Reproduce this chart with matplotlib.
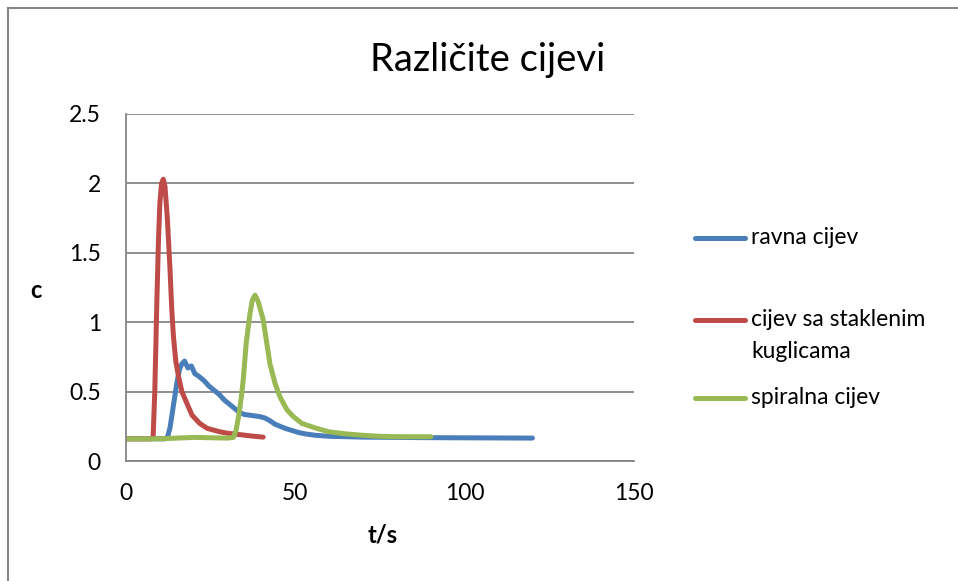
import matplotlib
matplotlib.use("Agg")
import matplotlib.pyplot as plt
from matplotlib.lines import Line2D

plt.rcParams['font.family'] = ['Lato', 'DejaVu Sans']

# ravna cijev
t_ravna = [0, 5, 10, 11.5, 12.3, 13, 14, 15, 15.8, 16.5, 17.3, 18.3, 19.3, 20.3, 21.5, 23, 24.5,
           26, 27.5, 29, 30.5, 32, 33.5, 35, 36.5, 38, 39.5, 41, 42.5, 44, 45.5, 47, 49, 51, 53,
           56, 60, 65, 70, 80, 90, 100, 110, 120]
c_ravna = [0.16, 0.16, 0.16, 0.16, 0.175, 0.24, 0.40, 0.56, 0.66, 0.70, 0.72, 0.67, 0.685, 0.63,
           0.61, 0.58, 0.54, 0.51, 0.48, 0.44, 0.41, 0.38, 0.35, 0.335, 0.33, 0.325, 0.32, 0.31,
           0.29, 0.265, 0.25, 0.235, 0.22, 0.205, 0.195, 0.185, 0.178, 0.175, 0.172, 0.17, 0.168,
           0.167, 0.166, 0.165]

# cijev sa staklenim kuglicama
t_kugl = [0, 4, 7.5, 8.0, 8.5, 9.1, 9.6, 10.0, 10.5, 11.0, 11.5, 12.2, 13.0, 13.5, 14.0, 14.7,
          15.5, 16.5, 17.9, 19.5, 21.8, 24, 27.8, 30, 33.7, 37, 40.5]
c_kugl = [0.16, 0.16, 0.16, 0.17, 0.5, 1.14, 1.6, 1.86, 2.0, 2.03, 1.98, 1.75, 1.38, 1.1, 0.9,
          0.72, 0.61, 0.5, 0.42, 0.33, 0.27, 0.235, 0.21, 0.2, 0.19, 0.18, 0.172]

# spiralna cijev
t_spir = [0, 10, 20, 30, 31.7, 32.5, 33.3, 34, 34.6, 35.5, 36.6, 37.3, 38.1, 39, 40.5, 41.5,
          42.5, 44, 45.5, 47.5, 49.4, 52, 56.3, 60, 65, 70, 75, 80, 85, 90]
c_spir = [0.16, 0.16, 0.17, 0.165, 0.17, 0.22, 0.33, 0.45, 0.58, 0.85, 1.06, 1.16, 1.195, 1.15,
          1.02, 0.86, 0.70, 0.56, 0.46, 0.37, 0.32, 0.27, 0.235, 0.21, 0.195, 0.185, 0.178,
          0.175, 0.175, 0.175]

x_ticks = [0, 50, 100, 150]
y_ticks = [0, 0.5, 1, 1.5, 2, 2.5]
y_labels = ['0', '0.5', '1', '1.5', '2', '2.5']

series = [
    ("ravna cijev", t_ravna, c_ravna, '#4A7EBB'),
    ("cijev sa staklenim\nkuglicama", t_kugl, c_kugl, '#BE4B48'),
    ("spiralna cijev", t_spir, c_spir, '#98B954'),
]

W, H = 958, 581
fig = plt.figure(figsize=(W / 100, H / 100), dpi=100)
ax = fig.add_axes([126 / W, 1 - 461 / H, (634 - 126) / W, (461 - 114) / H])

grey = '#868686'
for name, t, c, col in series:
    ax.plot(t, c, color=col, lw=3.6, solid_capstyle='round', solid_joinstyle='round')

ax.set_xlim(0, 150)
ax.set_ylim(0, 2.5)
ax.set_xticks(x_ticks)
ax.set_xticklabels([str(v) for v in x_ticks])
ax.set_yticks(y_ticks)
ax.set_yticklabels(y_labels)
ax.tick_params(length=0, labelsize=16.5, colors='black')
ax.tick_params(axis='y', pad=18)
ax.tick_params(axis='x', pad=16)
ax.yaxis.grid(True, color=grey, lw=1.3)
ax.set_axisbelow(True)
for s in ['top', 'right']:
    ax.spines[s].set_visible(False)
for s in ['left', 'bottom']:
    ax.spines[s].set_color(grey)
    ax.spines[s].set_linewidth(1.3)

fig.text(488 / W, 1 - 60 / H, "Različite cijevi", ha='center', va='center', fontsize=27.5)
fig.text(36 / W, 1 - 290 / H, "c", ha='center', va='center', fontsize=17, fontweight='bold')
fig.text(383 / W, 1 - 535 / H, "t/s", ha='center', va='center', fontsize=17, fontweight='bold')

# legend
leg_y = [238, 320, 398]
for (name, t, c, col), yy in zip(series, leg_y):
    fy = 1 - yy / H
    fig.add_artist(Line2D([695 / W, 745 / W], [fy, fy], color=col, lw=3.6,
                          solid_capstyle='round'))
    lines = name.split('\n')
    for k, ln in enumerate(lines):
        fig.text(751 / W, 1 - (yy + 32 * k) / H, ln, ha='left', va='center', fontsize=16.5)

# outer chart border
fig.add_artist(Line2D([8 / W, 1], [1 - 8 / H, 1 - 8 / H], color=grey, lw=1.5))
fig.add_artist(Line2D([8 / W, 8 / W], [0, 1 - 8 / H], color=grey, lw=1.5))

fig.savefig("out.png", dpi=100)
